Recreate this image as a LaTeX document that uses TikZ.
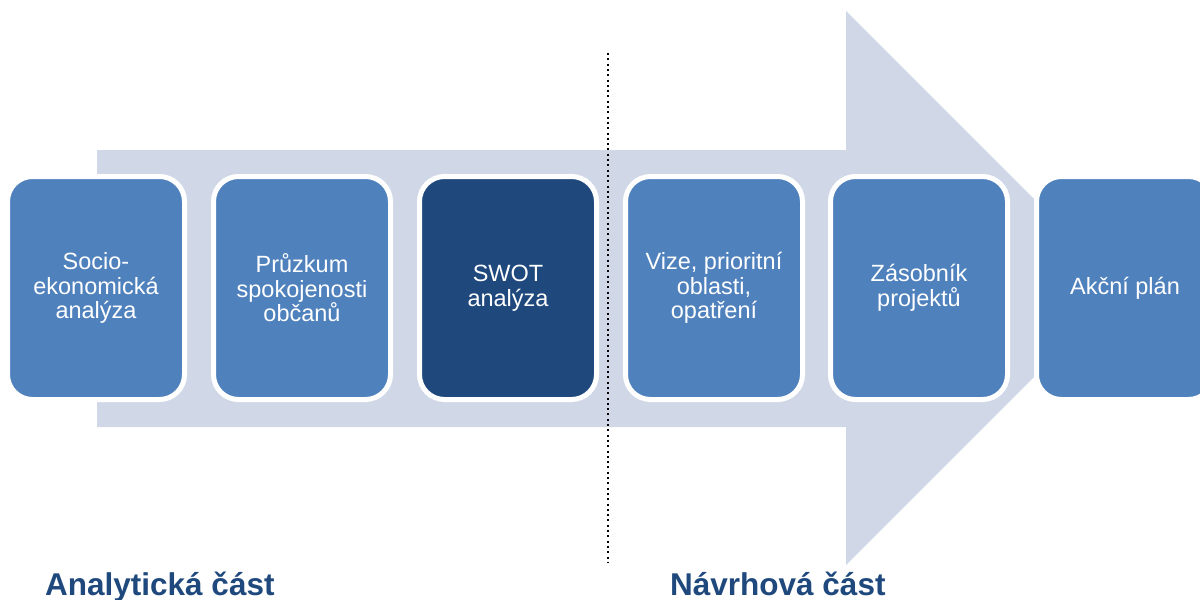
\documentclass[tikz,border=0pt]{standalone}
\usepackage{fontspec}
\setmainfont{Liberation Sans}
\definecolor{arrowfill}{HTML}{D0D8E8}
\definecolor{boxblue}{HTML}{4F81BD}
\definecolor{boxdark}{HTML}{1F497D}
\definecolor{labelblue}{HTML}{1F497D}
\begin{document}
\begin{tikzpicture}[x=1pt,y=-1pt,
  stage/.style={draw=white, line width=5pt, fill=boxblue, rounded corners=25pt,
    minimum width=177pt, minimum height=223pt, inner sep=0pt, align=center,
    text=white, font=\fontsize{23.5}{24.5}\selectfont},
  partlabel/.style={anchor=base west, inner sep=0pt, text=labelblue,
    font=\bfseries\fontsize{31.5}{36}\selectfont},
  divider/.style={line width=2pt, dash pattern=on 2pt off 3.3pt}]
\useasboundingbox (0,0) rectangle (1200,600);
\clip (0,0) rectangle (1200,600);
% big background arrow
\fill[arrowfill] (97,150) -- (846,150) -- (846,11) -- (1123,288) -- (846,565) -- (846,427) -- (97,427) -- cycle;
% stages
\node[stage] (b1) at (96,288) {Socio-\\ekonomická\\analýza};
\node[stage] (b2) at (302,288) {Průzkum\\spokojenosti\\občanů};
\node[stage, fill=boxdark] (b3) at (508,288) {SWOT\\analýza};
\node[stage] (b4) at (714,288) {Vize, prioritní\\oblasti,\\opatření};
\node[stage] (b5) at (919,288) {Zásobník\\projektů};
\node[stage] (b6) at (1125,288) {Akční plán};
% divider
\coordinate (dtop) at (608,53);
\coordinate (dbot) at (608,562);
\draw[divider] (dtop) -- (dbot);
% part labels
\node[partlabel] (l1) at (45,595) {Analytická část};
\node[partlabel] (l2) at (670,595) {Návrhová část};
\end{tikzpicture}
\end{document}
